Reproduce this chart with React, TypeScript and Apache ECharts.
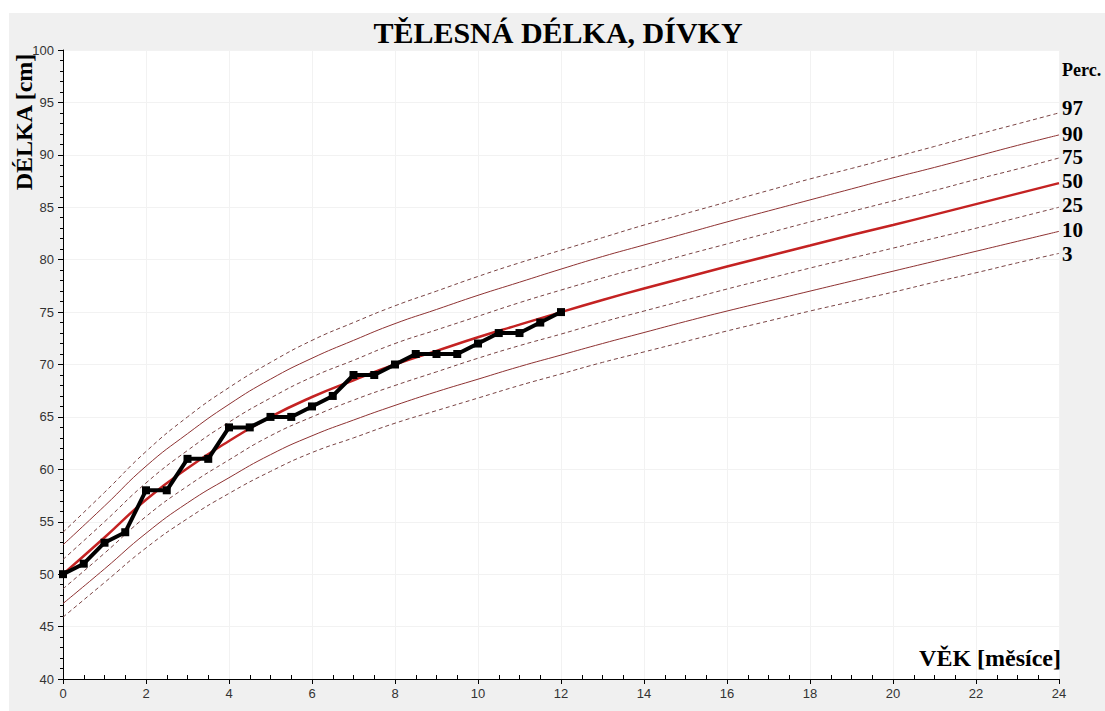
import React, { useEffect, useRef } from "react";
import * as echarts from "echarts";

const TITLE = "TĚLESNÁ DÉLKA, DÍVKY";
const Y_NAME = "DÉLKA [cm]";
const X_NAME = "VĚK [měsíce]";
const PERC_HEADER = "Perc.";

// age in months for the percentile curves
const months = [0, 1, 2, 3, 4, 5, 6, 7, 8, 9, 10, 11, 12, 13, 14, 15, 16, 17, 18, 19, 20, 21, 22, 23, 24];

const p97 = [54.0, 57.8, 61.7, 65.0, 67.8, 70.2, 72.3, 74.0, 75.6, 77.0, 78.4, 79.7, 80.9, 82.1, 83.3, 84.4, 85.5, 86.6, 87.7, 88.7, 89.75, 90.8, 91.9, 92.95, 94.0];
const p90 = [52.8, 56.5, 60.3, 63.4, 66.2, 68.6, 70.6, 72.3, 73.9, 75.25, 76.6, 77.85, 79.1, 80.3, 81.4, 82.5, 83.6, 84.65, 85.7, 86.75, 87.8, 88.8, 89.85, 90.9, 91.9];
const p75 = [51.4, 55.0, 58.7, 61.8, 64.5, 66.8, 68.8, 70.4, 72.0, 73.3, 74.6, 75.9, 77.1, 78.25, 79.35, 80.45, 81.5, 82.55, 83.6, 84.6, 85.6, 86.6, 87.65, 88.65, 89.7];
const p50 = [50.0, 53.5, 57.1, 60.1, 62.7, 65.0, 66.9, 68.5, 70.0, 71.3, 72.6, 73.8, 75.0, 76.15, 77.25, 78.3, 79.35, 80.35, 81.35, 82.35, 83.3, 84.3, 85.3, 86.3, 87.3];
const p25 = [48.6, 52.0, 55.5, 58.4, 60.9, 63.2, 65.0, 66.6, 68.0, 69.3, 70.6, 71.8, 72.9, 74.05, 75.1, 76.15, 77.2, 78.2, 79.2, 80.15, 81.1, 82.05, 83.0, 84.0, 85.0];
const p10 = [47.2, 50.5, 53.9, 56.8, 59.2, 61.4, 63.2, 64.7, 66.1, 67.4, 68.6, 69.8, 70.9, 72.0, 73.05, 74.1, 75.1, 76.05, 77.0, 77.95, 78.9, 79.85, 80.8, 81.75, 82.7];
const p3 = [45.9, 49.2, 52.5, 55.3, 57.7, 59.8, 61.6, 63.0, 64.4, 65.6, 66.8, 68.0, 69.1, 70.2, 71.2, 72.2, 73.2, 74.15, 75.1, 76.0, 76.9, 77.85, 78.75, 79.7, 80.6];

// measured child
const childAges = [0, 0.5, 1, 1.5, 2, 2.5, 3, 3.5, 4, 4.5, 5, 5.5, 6, 6.5, 7, 7.5, 8, 8.5, 9, 9.5, 10, 10.5, 11, 11.5, 12];
const childLengths = [50, 51, 53, 54, 58, 58, 61, 61, 64, 64, 65, 65, 66, 67, 69, 69, 70, 71, 71, 71, 72, 73, 73, 74, 75];

const SERIF = "'Liberation Serif', 'Times New Roman', serif";
const SANS = "'Liberation Sans', Arial, sans-serif";

const DASHED_COLOR = "#7a4444";
const THIN_COLOR = "#8e3232";
const MEDIAN_COLOR = "#c42222";

const percentiles = [
  { name: "97", values: p97, kind: "dashed", labelShift: -5 },
  { name: "90", values: p90, kind: "thin", labelShift: -1 },
  { name: "75", values: p75, kind: "dashed", labelShift: -1 },
  { name: "50", values: p50, kind: "median", labelShift: -2 },
  { name: "25", values: p25, kind: "dashed", labelShift: -2 },
  { name: "10", values: p10, kind: "thin", labelShift: -1 },
  { name: "3", values: p3, kind: "dashed", labelShift: 1 },
];

export default function App() {
  const ref = useRef<HTMLDivElement>(null);

  useEffect(() => {
    if (!ref.current) return;
    const chart = echarts.init(ref.current, undefined, { renderer: "svg" });

    const percSeries = percentiles.map((p) => {
      const style =
        p.kind === "median"
          ? { color: MEDIAN_COLOR, width: 2.5, type: "solid" as const }
          : p.kind === "thin"
          ? { color: THIN_COLOR, width: 1, type: "solid" as const }
          : { color: DASHED_COLOR, width: 1, type: [4, 3] as any };
      return {
        name: p.name,
        type: "line",
        xAxisIndex: 0,
        data: months.map((m, i) => [m, p.values[i]]),
        smooth: true,
        showSymbol: false,
        symbol: "none",
        lineStyle: style,
        z: p.kind === "median" ? 3 : 2,
        silent: true,
        endLabel: {
          show: true,
          formatter: p.name,
          distance: 3,
          offset: [0, p.labelShift],
          color: "#000",
          fontFamily: SERIF,
          fontWeight: "bold",
          fontSize: 21,
          lineHeight: 18,
        },
      };
    });

    chart.setOption({
      animation: false,
      backgroundColor: "#f0f0f0",
      grid: {
        left: 54,
        top: 37,
        width: 996,
        height: 629,
        show: true,
        backgroundColor: "#ffffff",
        borderWidth: 0,
        containLabel: false,
      },
      xAxis: [
        {
          type: "value",
          min: 0,
          max: 24,
          interval: 2,
          axisLine: { show: true, onZero: false, lineStyle: { color: "#000", width: 1 } },
          axisTick: { show: true, length: 5, lineStyle: { color: "#000" } },
          minorTick: { show: false },
          axisLabel: { color: "#333", fontFamily: SANS, fontSize: 13, margin: 8 },
          splitLine: { show: true, lineStyle: { color: "#f2f2f2", width: 1 } },
        },
        {
          type: "value",
          min: 0,
          max: 24,
          interval: 2,
          position: "bottom",
          axisLine: { show: false, onZero: false },
          axisTick: { show: false, inside: true },
          minorTick: { show: true, splitNumber: 4, length: 4, lineStyle: { color: "#000" } },
          axisLabel: { show: false },
          splitLine: { show: false },
        },
      ],
      yAxis: {
        type: "value",
        min: 40,
        max: 100,
        interval: 5,
        axisLine: { show: true, onZero: false, lineStyle: { color: "#000", width: 1 } },
        axisTick: { show: true, length: 5, lineStyle: { color: "#000" } },
        minorTick: { show: true, splitNumber: 5, length: 3, lineStyle: { color: "#000" } },
        axisLabel: { color: "#333", fontFamily: SANS, fontSize: 13, margin: 9 },
        splitLine: { show: true, lineStyle: { color: "#f2f2f2", width: 1 } },
      },
      graphic: [
        {
          type: "text",
          x: 549,
          y: 19,
          style: {
            text: TITLE,
            fill: "#000",
            font: `bold 30px ${SERIF}`,
            textAlign: "center",
            textVerticalAlign: "middle",
          },
        },
        {
          type: "text",
          x: 15,
          y: 109,
          rotation: Math.PI / 2,
          style: {
            text: Y_NAME,
            fill: "#000",
            font: `bold 24px ${SERIF}`,
            textAlign: "center",
            textVerticalAlign: "middle",
          },
        },
        {
          type: "text",
          x: 1052,
          y: 645,
          z: 10,
          style: {
            text: X_NAME,
            fill: "#000",
            font: `bold 24px ${SERIF}`,
            textAlign: "right",
            textVerticalAlign: "middle",
          },
        },
        {
          type: "text",
          x: 1053,
          y: 57,
          style: {
            text: PERC_HEADER,
            fill: "#000",
            font: `bold 18px ${SERIF}`,
            textAlign: "left",
            textVerticalAlign: "middle",
          },
        },
      ],
      series: [
        ...percSeries,
        {
          name: "child",
          type: "line",
          data: childAges.map((a, i) => [a, childLengths[i]]),
          symbol: "rect",
          symbolSize: 8,
          showSymbol: true,
          itemStyle: { color: "#000" },
          lineStyle: { color: "#000", width: 4 },
          z: 5,
          silent: true,
        },
      ],
    });

    return () => chart.dispose();
  }, []);

  return (
    <div
      ref={ref}
      style={{
        position: "absolute",
        left: 9,
        top: 13,
        width: 1096,
        height: 698,
      }}
    />
  );
}
